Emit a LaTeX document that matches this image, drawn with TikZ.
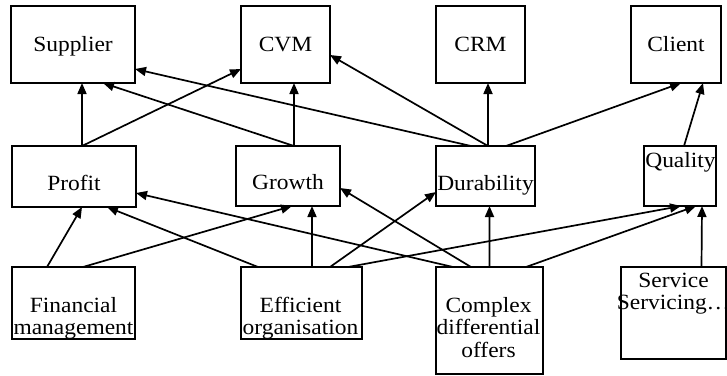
\documentclass[tikz,border=0pt]{standalone}
\usepackage{fontspec}
\setmainfont{Liberation Serif}[FakeStretch=1.08]
\usetikzlibrary{arrows.meta}
\begin{document}
\begin{tikzpicture}[x=1bp,y=-1bp,
  box/.style={draw, line width=1.3bp, inner sep=0pt, outer sep=0pt},
  lbl/.style={anchor=base, inner sep=0pt, font=\fontsize{21.8}{23}\selectfont},
  link/.style={line width=1.7bp, -{Triangle[length=11bp,width=9bp]}},
]
\useasboundingbox (0,0) rectangle (727,375);

% top row
\node[box, minimum width=124bp, minimum height=77bp] (sup) at (73,44.5) {};
\node[box, minimum width=89bp,  minimum height=77bp] (cvm) at (285.5,44.5) {};
\node[box, minimum width=89bp,  minimum height=77bp] (crm) at (480.5,44.5) {};
\node[box, minimum width=90bp,  minimum height=77bp] (cli) at (676,44.5) {};

% middle row
\node[box, minimum width=124bp, minimum height=61bp] (pro) at (74,176.5) {};
\node[box, minimum width=104bp, minimum height=60bp] (gro) at (288,176) {};
\node[box, minimum width=99bp,  minimum height=60bp] (dur) at (485.5,176) {};
\node[box, minimum width=72bp,  minimum height=60bp] (qua) at (680,176) {};

% bottom row
\node[box, minimum width=123bp, minimum height=72bp]  (fin) at (73.5,303) {};
\node[box, minimum width=121bp, minimum height=72bp]  (eff) at (301.5,303) {};
\node[box, minimum width=107bp, minimum height=107bp] (cdo) at (489.5,320.5) {};
\node[box, minimum width=105bp, minimum height=92bp]  (ser) at (673.5,313) {};

% labels
\node[lbl] (sup-t) at (73,51) {Supplier};
\node[lbl] (cvm-t) at (285.5,51) {CVM};
\node[lbl] (crm-t) at (480.5,51) {CRM};
\node[lbl] (cli-t) at (676,51) {Client};
\node[lbl] (pro-t) at (74,190) {Profit};
\node[lbl] (gro-t) at (288,189) {Growth};
\node[lbl] (dur-t) at (485.5,190) {Durability};
\node[lbl] (qua-t) at (680.5,167) {Quality};
\node[lbl] (fin-t) at (73.5,312) {\begin{tabular}[t]{@{}c@{}}Financial\\management\end{tabular}};
\node[lbl] (eff-t) at (300.5,312) {\begin{tabular}[t]{@{}c@{}}Efficient\\organisation\end{tabular}};
\node[lbl] (cdo-t) at (488.5,312) {\begin{tabular}[t]{@{}c@{}}Complex\\differential\\offers\end{tabular}};
\node[lbl] (ser-t) at (673.5,287) {\begin{tabular}[t]{@{}c@{}}Service\\Servicing…\end{tabular}};

% links into the top row
\draw[link] ([xshift=8bp]pro.north) -- ([xshift=9bp]sup.south);
\draw[link] ([xshift=8bp]pro.north) -- ([yshift=-24.5bp]cvm.west);
\draw[link] ([xshift=6bp]gro.north) -- ([xshift=30bp]sup.south);
\draw[link] ([xshift=6bp]gro.north) -- ([xshift=8.5bp]cvm.south);
\draw[link] ([xshift=-14.5bp]dur.north) -- ([yshift=-24.5bp]sup.east);
\draw[link] ([xshift=2.5bp]dur.north) -- ([yshift=-10.5bp]cvm.east);
\draw[link] ([xshift=2.5bp]dur.north) -- ([xshift=7.5bp]crm.south);
\draw[link] ([xshift=20.5bp]dur.north) -- ([xshift=5bp]cli.south);
\draw[link] ([xshift=4bp]qua.north) -- ([xshift=27bp]cli.south);

% links into the middle row
\draw[link] ([xshift=-26.5bp]fin.north) -- ([xshift=8bp]pro.south);
\draw[link] ([xshift=9.5bp]fin.north) -- ([xshift=4bp]gro.south);
\draw[link] ([xshift=-43.5bp]eff.north) -- ([xshift=33bp]pro.south);
\draw[link] ([xshift=10.5bp]eff.north) -- ([xshift=24bp]gro.south);
\draw[link] ([xshift=28.5bp]eff.north) -- ([yshift=-16bp]dur.west);
\draw[link] ([xshift=46.5bp]eff.north) -- ([xshift=1bp]qua.south);
\draw[link] ([xshift=-36.5bp]cdo.north) -- ([yshift=-16.5bp]pro.east);
\draw[link] ([xshift=-18.5bp]cdo.north) -- ([yshift=-12bp]gro.east);
\draw[link] (cdo.north) -- ([xshift=4bp]dur.south);
\draw[link] ([xshift=36.5bp]cdo.north) -- ([xshift=16bp]qua.south);
\draw[link] ([xshift=28bp]ser.north) -- ([xshift=22bp]qua.south);
\end{tikzpicture}
\end{document}
